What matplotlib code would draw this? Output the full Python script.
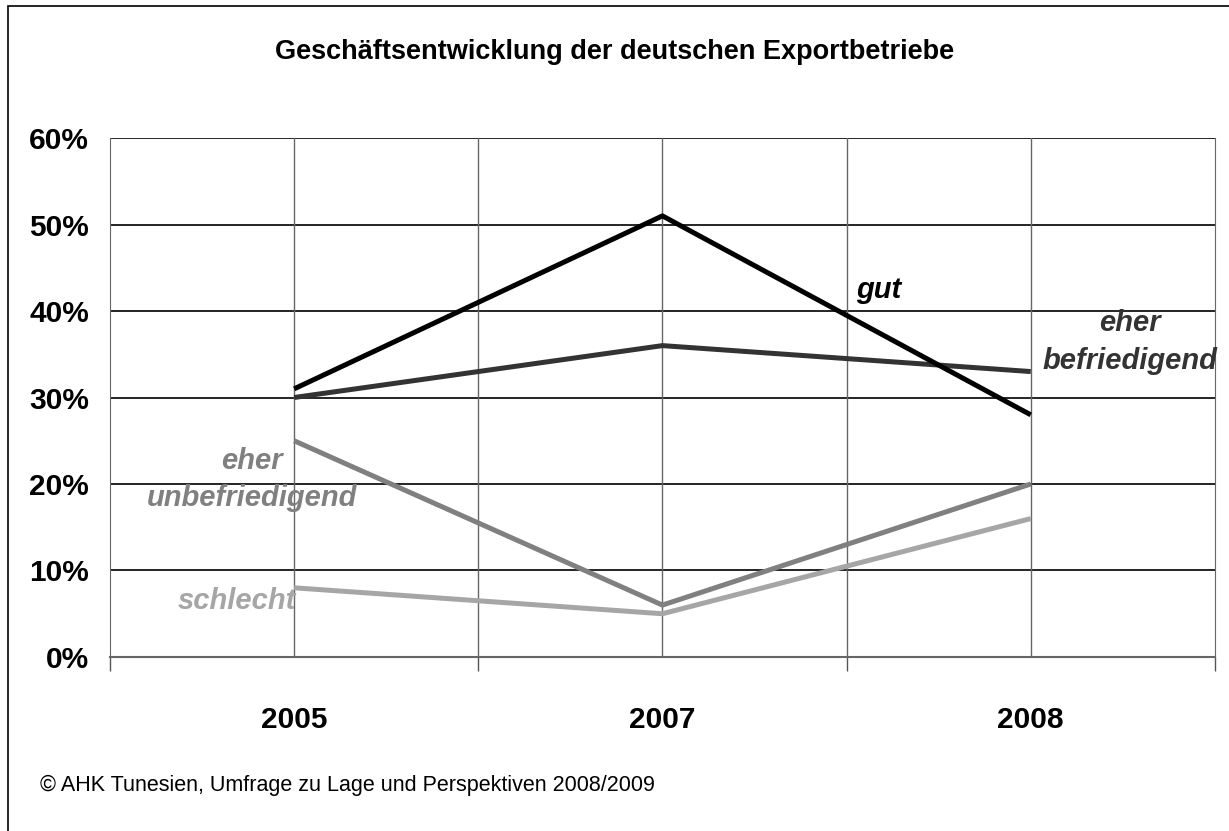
import numpy as np
import matplotlib.pyplot as plt
from matplotlib.patches import Rectangle

plt.rcParams['font.family'] = ['Liberation Sans', 'DejaVu Sans']

# Daten
jahre = ['2005', '2007', '2008']
gut = [31, 51, 28]
eher_befriedigend = [30, 36, 33]
eher_unbefriedigend = [25, 6, 20]
schlecht = [8, 5, 16]

x = np.array([1, 3, 5])

fig = plt.figure(figsize=(12.29, 8.31), dpi=100)
ax = fig.add_axes([0.0895, 0.2094, 0.899, 0.6245])

# Rahmen um die Grafik
fig.patches.append(Rectangle((0.0065, -0.01), 0.999, 1.003, transform=fig.transFigure,
                             fill=False, edgecolor='black', linewidth=1.2))

# Linien
lw = 3.6
ax.plot(x, gut, color='#000000', linewidth=lw, solid_capstyle='butt', zorder=5)
ax.plot(x, eher_befriedigend, color='#333333', linewidth=lw, solid_capstyle='butt', zorder=4)
ax.plot(x, eher_unbefriedigend, color='#808080', linewidth=lw, solid_capstyle='butt', zorder=3)
ax.plot(x, schlecht, color='#a6a6a6', linewidth=lw, solid_capstyle='butt', zorder=2)

# Beschriftungen der Linien
lab = dict(fontsize=21, fontweight='bold', fontstyle='italic')
ax.text(4.05, 42.4, 'gut', color='#000000', ha='left', va='center', **lab)
ax.text(5.54, 36.4, 'eher\nbefriedigend', color='#333333', ha='center', va='center',
        linespacing=1.45, **lab)
ax.text(0.77, 20.5, 'eher\nunbefriedigend', color='#808080', ha='center', va='center',
        linespacing=1.4, **lab)
ax.text(1.01, 6.5, 'schlecht', color='#a6a6a6', ha='right', va='center', **lab)

# Achsen
ax.set_xlim(0, 6)
ax.set_ylim(0, 60)
ax.set_yticks(np.arange(0, 61, 10))
ax.set_yticklabels([f'{v}%' for v in range(0, 61, 10)], fontsize=21.5, fontweight='bold')
ax.set_xticks([0, 2, 4, 6])
ax.set_xticklabels([])
ax.tick_params(axis='x', length=10, width=1, color='#555555', direction='out')
ax.tick_params(axis='y', length=0, pad=15)

for xi, j in zip(x, jahre):
    ax.text(xi, -7.3, j, ha='center', va='center', fontsize=21.5, fontweight='bold')

# Gitter
for yv in range(10, 61, 10):
    ax.axhline(yv, color='black', linewidth=1.2, zorder=1)
for xv in range(1, 6):
    ax.axvline(xv, color='#666666', linewidth=1, zorder=1)

ax.spines['top'].set_visible(False)
ax.spines['left'].set_color('#666666')
ax.spines['right'].set_color('#666666')
ax.spines['bottom'].set_color('#666666')
ax.spines['bottom'].set_linewidth(1.5)

# Titel und Quelle
fig.text(0.5, 0.937, 'Geschäftsentwicklung der deutschen Exportbetriebe',
         ha='center', va='center', fontsize=19.5, fontweight='bold')
fig.text(0.0325, 0.055, '© AHK Tunesien, Umfrage zu Lage und Perspektiven 2008/2009',
         ha='left', va='center', fontsize=15.5)

plt.savefig('out.png', dpi=100)
